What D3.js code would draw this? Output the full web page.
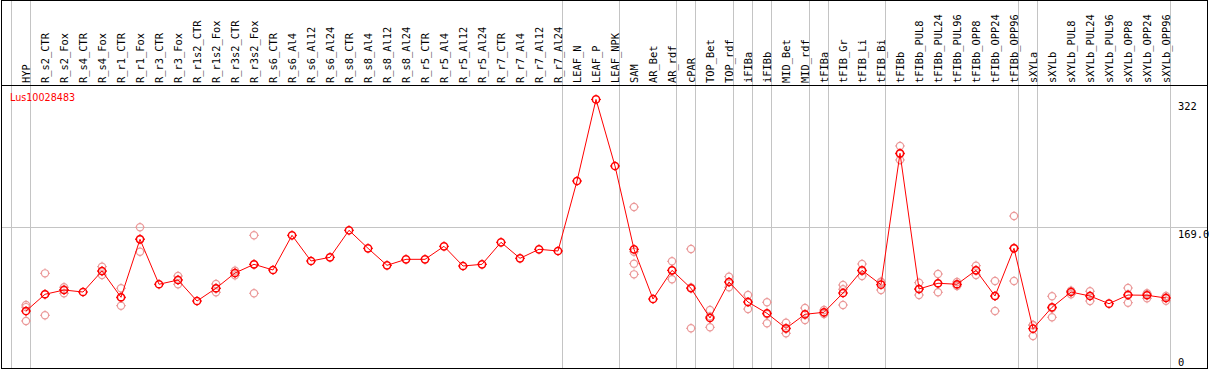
<!DOCTYPE html>
<html lang="en">
<head>
  <meta charset="UTF-8" />
  <title>Lus10028483 expression</title>
  <style>
    body { margin: 0; background: #fff; }
    text { font-family: "DejaVu Sans Mono", monospace; font-size: 10.4px; }
  </style>
</head>
<body>
  <div id="chart"></div>
  <script src="https://d3js.org/d3.v7.min.js"></script>
  <script>
    var geneName = "Lus10028483";

    var categories = ["HYP", "R_s2_CTR", "R_s2_Fox", "R_s4_CTR", "R_s4_Fox", "R_r1_CTR", "R_r1_Fox",
      "R_r3_CTR", "R_r3_Fox", "R_r1s2_CTR", "R_r1s2_Fox", "R_r3s2_CTR", "R_r3s2_Fox", "R_s6_CTR",
      "R_s6_Al4", "R_s6_Al12", "R_s6_Al24", "R_s8_CTR", "R_s8_Al4", "R_s8_Al12", "R_s8_Al24",
      "R_r5_CTR", "R_r5_Al4", "R_r5_Al12", "R_r5_Al24", "R_r7_CTR", "R_r7_Al4", "R_r7_Al12", "R_r7_Al24",
      "LEAF_N", "LEAF_P", "LEAF_NPK", "SAM", "AR_Bet", "AR_rdf", "cPAR", "TOP_Bet", "TOP_rdf",
      "iFIBa", "iFIBb", "MID_Bet", "MID_rdf", "tFIBa", "tFIB_Gr", "tFIB_Li", "tFIB_Bi",
      "tFIBb", "tFIBb_PUL8", "tFIBb_PUL24", "tFIBb_PUL96", "tFIBb_OPP8", "tFIBb_OPP24", "tFIBb_OPP96",
      "sXYLa", "sXYLb", "sXYLb_PUL8", "sXYLb_PUL24", "sXYLb_PUL96", "sXYLb_OPP8", "sXYLb_OPP24", "sXYLb_OPP96"];

    // sizes of the sample groups (separated by grey lines)
    var groupSizes = [1, 28, 3, 3, 1, 2, 1, 1, 2, 1, 3, 7, 1, 7];

    var means = [68.3, 88.4, 93.5, 91.1, 116.3, 84.8, 154.3, 100.4, 105.5, 80.3, 95.6, 113.9, 124.3, 117.5,
      159.1, 128.3, 132.7, 165.1, 143.5, 123.1, 130.3, 130.3, 145.9, 122.3, 124.3, 150.7, 131.5, 142.3, 140.3,
      224.2, 322, 242.2, 142.3, 82.7, 117.1, 95.6, 60.0, 103.1, 79.1, 65.6, 47.6, 64.4, 66.8,
      89.9, 117.1, 99.9, 257.4, 94.7, 101.6, 100.4, 117.1, 86.3, 143.5,
      47.1, 72.8, 91.1, 86.3, 77.1, 87.5, 87.2, 83.9];

    var replicates = [
      [75.5, 73.0, 56.4], [113.5, 88.5, 63.2], [96.8, 94.1, 89.6], [], [121.5, 115.9, 111.5],
      [95.6, 84.1, 74.7], [168.7, 154.8, 139.4], [], [110.3, 105.8, 100.4], [], [100.7, 95.3, 90.8],
      [116.7, 113.9, 111.1], [159.1, 124.2, 89.6], [],
      [], [], [], [], [], [], [], [], [], [], [], [], [], [], [],
      [], [], [], [193.0, 139.4, 125.1, 112.3], [], [127.9, 117.0, 106.4], [142.7, 96.5, 47.6],
      [69.5, 61.7, 48.8], [109.5, 103.0, 96.8], [87.5, 79.1, 70.7], [78.8, 64.4, 53.6],
      [54.3, 46.9, 41.6], [71.9, 63.7, 57.6], [69.5, 66.2, 64.7],
      [99.5, 94.4, 75.5], [124.7, 116.3, 110.3], [103.5, 102.7, 93.5],
      [266.2, 256.6, 249.4], [102.3, 94.3, 87.5], [112.7, 101.3, 90.8], [103.1, 99.8, 98.3],
      [122.7, 117.1, 111.5], [104.3, 86.3, 68.3], [182.2, 144.0, 104.3],
      [51.6, 51.3, 38.4], [86.0, 71.6, 60.8], [92.7, 92.2, 88.4], [92.0, 86.6, 80.3], [],
      [95.9, 88.3, 78.3], [89.6, 88.4, 83.6], [86.3, 84.7, 80.7]];

    var maxValue = 322;
    var yTickLabels = ["322", "169.0", "0"];

    var W = 1209, H = 370;
    var plotTop = 86, plotBottom = 368, headerY = 85;

    var svg = d3.select("#chart").append("svg")
      .attr("width", W).attr("height", H);

    var x = d3.scalePoint().domain(categories).range([26, 1166]);
    var step = x.step();
    var y = d3.scaleLinear().domain([0, maxValue * 1.05]).range([plotBottom, plotTop]);

    // group separators
    var sepX = [x(categories[0]) - step];
    var acc = 0;
    groupSizes.forEach(function(n) { acc += n; sepX.push(x(categories[acc - 1])); });
    svg.selectAll("line.sep").data(sepX).enter().append("line")
      .attr("x1", function(d) { return Math.round(d + 4) + 0.5; })
      .attr("x2", function(d) { return Math.round(d + 4) + 0.5; })
      .attr("y1", 0).attr("y2", plotBottom)
      .attr("stroke", "#c4c4c4").attr("stroke-width", 1);

    // middle grid line
    var midY = Math.round(y(maxValue * 1.05 / 2)) + 0.5;
    svg.append("line")
      .attr("x1", 1).attr("x2", 1207).attr("y1", midY).attr("y2", midY)
      .attr("stroke", "#c4c4c4");

    // frame and header rule
    svg.append("rect")
      .attr("x", 1.5).attr("y", 0.5).attr("width", 1206).attr("height", plotBottom)
      .attr("fill", "none").attr("stroke", "#000");
    svg.append("line")
      .attr("x1", 1).attr("x2", 1207).attr("y1", headerY + 0.5).attr("y2", headerY + 0.5)
      .attr("stroke", "#000");

    // category labels
    svg.selectAll("text.cat").data(categories).enter().append("text")
      .attr("class", "cat")
      .attr("transform", function(d) { return "translate(" + (x(d) + 3.6) + "," + (headerY - 2) + ") rotate(-90)"; })
      .attr("fill", "#000")
      .text(function(d) { return d; });

    // y labels
    var yVals = [maxValue, maxValue * 1.05 / 2, 0];
    svg.selectAll("text.ytick").data(yVals).enter().append("text")
      .attr("class", "ytick")
      .attr("x", 1178)
      .attr("y", function(d, i) { return Math.min(y(d) + 10.5, 366); })
      .attr("fill", "#000")
      .text(function(d, i) { return yTickLabels[i]; });

    svg.append("text")
      .attr("x", 10).attr("y", 100.5)
      .attr("fill", "#ff0000")
      .style("font-family", "'DejaVu Sans', sans-serif")
      .style("font-size", "9.6px")
      .text(geneName);

    function marker(g, cx, cy, color, sw) {
      g.append("circle").attr("cx", cx).attr("cy", cy).attr("r", 3.6)
        .attr("fill", "none").attr("stroke", color).attr("stroke-width", sw);
      [[0, -1], [0, 1], [-1, 0], [1, 0]].forEach(function(o) {
        g.append("line")
          .attr("x1", cx + o[0] * 3.6).attr("y1", cy + o[1] * 3.6)
          .attr("x2", cx + o[0] * 5).attr("y2", cy + o[1] * 5)
          .attr("stroke", color).attr("stroke-width", 1);
      });
    }

    // replicate points
    var repG = svg.append("g");
    replicates.forEach(function(reps, i) {
      reps.forEach(function(v) { marker(repG, x(categories[i]), y(v), "#eb9a9a", 1.2); });
    });

    // mean line
    var line = d3.line()
      .x(function(d, i) { return x(categories[i]); })
      .y(function(d) { return y(d); });
    svg.append("path").datum(means)
      .attr("d", line)
      .attr("fill", "none").attr("stroke", "#ff0000").attr("stroke-width", 1);

    var meanG = svg.append("g");
    means.forEach(function(v, i) { marker(meanG, x(categories[i]), y(v), "#ff0000", 1.5); });
  </script>
</body>
</html>
